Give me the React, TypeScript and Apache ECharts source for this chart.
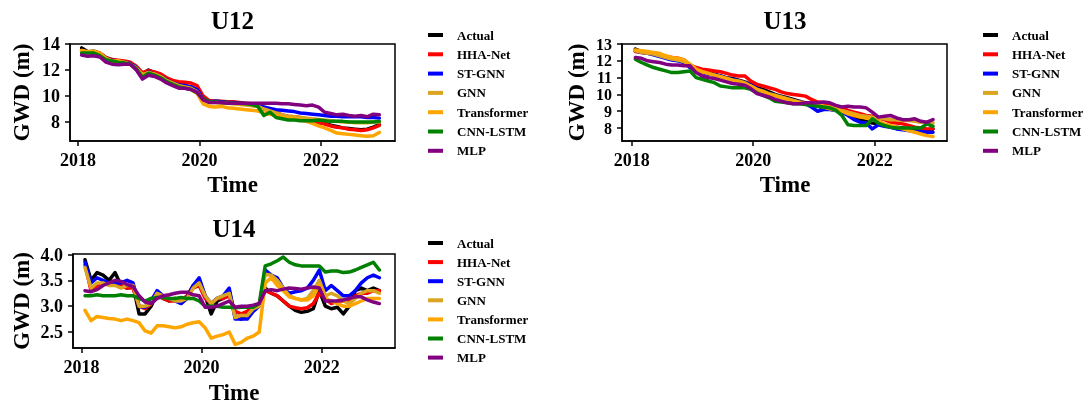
import React, { useEffect, useRef } from "react";
import * as echarts from "echarts";

const names = ["Actual", "HHA-Net", "ST-GNN", "GNN", "Transformer", "CNN-LSTM", "MLP"];
const colors = ["#000000", "#ff0000", "#0000ff", "#daa520", "#ffa500", "#008000", "#800080"];

const years = [
  2018.06, 2018.16, 2018.26, 2018.36, 2018.46, 2018.56, 2018.66, 2018.76, 2018.86, 2018.96,
  2019.06, 2019.16, 2019.26, 2019.36, 2019.46, 2019.56, 2019.66, 2019.76, 2019.86, 2019.96,
  2020.06, 2020.16, 2020.26, 2020.36, 2020.46, 2020.56, 2020.66, 2020.76, 2020.86, 2020.96,
  2021.06, 2021.16, 2021.26, 2021.36, 2021.46, 2021.56, 2021.66, 2021.76, 2021.86, 2021.96,
  2022.06, 2022.16, 2022.26, 2022.36, 2022.46, 2022.56, 2022.66, 2022.76, 2022.86, 2022.96,
];

// ---- U12 ----
const u12Actual = [
  13.7, 13.4, 13.45, 13.3, 12.95, 12.8, 12.7, 12.6, 12.5, 12.2,
  11.7, 12.0, 11.8, 11.6, 11.3, 11.1, 10.9, 10.8, 10.7, 10.5,
  9.8, 9.55, 9.6, 9.55, 9.5, 9.5, 9.45, 9.4, 9.35, 9.3,
  9.0, 8.9, 8.7, 8.5, 8.4, 8.35, 8.3, 8.2, 8.1, 7.95,
  7.9, 7.75, 7.65, 7.55, 7.5, 7.45, 7.4, 7.45, 7.6, 7.8,
];
const u12Hha = [
  13.5, 13.35, 13.4, 13.3, 12.95, 12.8, 12.75, 12.7, 12.6, 12.3,
  11.8, 11.95, 11.85, 11.7, 11.4, 11.2, 11.1, 11.05, 11.0, 10.8,
  10.0, 9.65, 9.6, 9.6, 9.55, 9.55, 9.5, 9.45, 9.4, 9.3,
  9.0, 8.85, 8.75, 8.55, 8.45, 8.4, 8.35, 8.25, 8.15, 8.0,
  7.85, 7.7, 7.6, 7.55, 7.45, 7.4, 7.35, 7.4, 7.55, 7.75,
];
const u12StGnn = [
  13.4, 13.35, 13.4, 13.25, 12.9, 12.75, 12.65, 12.6, 12.5, 12.2,
  11.6, 11.85, 11.7, 11.5, 11.25, 11.0, 10.85, 10.8, 10.7, 10.5,
  9.75, 9.55, 9.6, 9.55, 9.5, 9.5, 9.45, 9.4, 9.35, 9.25,
  9.15, 9.05, 8.95, 8.9, 8.85, 8.8, 8.7, 8.65, 8.6, 8.55,
  8.5, 8.45, 8.45, 8.4, 8.4, 8.4, 8.4, 8.35, 8.35, 8.3,
];
const u12Gnn = [
  13.45, 13.3, 13.35, 13.2, 12.85, 12.7, 12.7, 12.55, 12.45, 12.15,
  11.65, 11.8, 11.7, 11.5, 11.2, 11.0, 10.8, 10.7, 10.6, 10.35,
  9.7, 9.5, 9.5, 9.45, 9.45, 9.4, 9.35, 9.3, 9.25, 9.2,
  9.0, 8.85, 8.7, 8.55, 8.45, 8.4, 8.35, 8.3, 8.25, 8.2,
  8.15, 8.1, 8.05, 8.0, 8.0, 7.95, 7.95, 7.95, 8.0, 8.0,
];
const u12Transformer = [
  13.5, 13.4, 13.45, 13.3, 12.9, 12.7, 12.7, 12.6, 12.45, 12.1,
  11.55, 11.8, 11.65, 11.45, 11.1, 10.9, 10.75, 10.65, 10.5, 10.2,
  9.4, 9.2, 9.15, 9.2, 9.1, 9.05, 9.0, 8.95, 8.9, 8.85,
  8.7, 8.6, 8.5, 8.4, 8.3, 8.25, 8.15, 8.05, 7.9, 7.7,
  7.55, 7.35, 7.15, 7.1, 7.05, 7.0, 6.95, 6.9, 6.95, 7.2,
];
const u12CnnLstm = [
  13.3, 13.3, 13.3, 13.1, 12.8, 12.7, 12.6, 12.55, 12.45, 12.1,
  11.45, 11.75, 11.6, 11.4, 11.1, 10.9, 10.7, 10.6, 10.5, 10.25,
  9.8, 9.55, 9.55, 9.5, 9.5, 9.45, 9.45, 9.4, 9.35, 9.2,
  8.5, 8.75, 8.35, 8.25, 8.15, 8.15, 8.1, 8.1, 8.1, 8.15,
  8.1, 8.05, 8.05, 8.05, 8.0, 8.0, 8.0, 8.0, 8.0, 8.05,
];
const u12Mlp = [
  13.15, 13.05, 13.1, 13.0, 12.6, 12.45, 12.4, 12.45, 12.45, 12.0,
  11.3, 11.6, 11.5, 11.3, 11.0, 10.8, 10.6, 10.6, 10.5, 10.3,
  9.7, 9.5, 9.5, 9.5, 9.45, 9.45, 9.45, 9.45, 9.45, 9.45,
  9.45, 9.45, 9.45, 9.4, 9.4, 9.35, 9.3, 9.25, 9.3, 9.15,
  8.75, 8.65, 8.55, 8.6, 8.5, 8.45, 8.5, 8.4, 8.6, 8.55,
];

// ---- U13 ----
const u13Actual = [
  12.7, 12.55, 12.5, 12.4, 12.3, 12.2, 12.1, 12.05, 11.95, 11.7,
  11.5, 11.4, 11.3, 11.2, 11.1, 11.0, 10.95, 10.85, 10.75, 10.6,
  10.4, 10.3, 10.15, 10.0, 9.9, 9.8, 9.7, 9.6, 9.5, 9.35,
  9.3, 9.2, 9.15, 9.05, 8.95, 8.8, 8.65, 8.5, 8.4, 8.3,
  8.25, 8.2, 8.1, 8.05, 8.0, 7.95, 7.9, 7.85, 7.9, 7.95,
];
const u13Hha = [
  12.55, 12.5, 12.45, 12.4, 12.35, 12.25, 12.2, 12.15, 12.05, 11.75,
  11.6, 11.5, 11.45, 11.4, 11.35, 11.25, 11.15, 11.1, 11.1, 10.8,
  10.6, 10.5, 10.4, 10.3, 10.15, 10.05, 10.0, 9.95, 9.9, 9.7,
  9.55, 9.5, 9.4, 9.3, 9.2, 9.05, 8.95, 8.85, 8.75, 8.7,
  8.6, 8.5, 8.35, 8.3, 8.25, 8.15, 8.05, 8.0, 7.95, 7.95,
];
const u13StGnn = [
  12.6, 12.5, 12.45, 12.35, 12.25, 12.15, 12.05, 12.0, 11.9, 11.6,
  11.45, 11.3, 11.2, 11.15, 11.1, 10.95, 10.9, 10.8, 10.7, 10.55,
  10.35, 10.2, 10.05, 9.95, 9.85, 9.75, 9.65, 9.55, 9.45, 9.25,
  9.0, 9.1, 9.1, 9.05, 8.95, 8.75, 8.5, 8.35, 8.3, 7.95,
  8.2, 8.1, 8.05, 7.95, 7.9, 7.85, 7.8, 7.8, 7.75, 7.75,
];
const u13Gnn = [
  12.6, 12.5, 12.45, 12.4, 12.3, 12.2, 12.1, 12.05, 11.95, 11.7,
  11.45, 11.35, 11.25, 11.15, 11.05, 10.95, 10.85, 10.8, 10.7, 10.5,
  10.3, 10.2, 10.05, 9.95, 9.85, 9.75, 9.65, 9.55, 9.5, 9.4,
  9.35, 9.3, 9.25, 9.15, 9.05, 8.95, 8.85, 8.75, 8.7, 8.65,
  8.6, 8.55, 8.5, 8.5, 8.45, 8.45, 8.4, 8.35, 8.35, 8.3,
];
const u13Transformer = [
  12.65, 12.6, 12.55, 12.5, 12.45, 12.3, 12.2, 12.15, 12.05, 11.8,
  11.5, 11.35, 11.25, 11.15, 11.05, 10.95, 10.85, 10.75, 10.65, 10.5,
  10.3, 10.15, 10.0, 9.9, 9.8, 9.7, 9.6, 9.5, 9.45, 9.4,
  9.35, 9.25, 9.15, 9.05, 9.0, 8.85, 8.75, 8.65, 8.6, 8.5,
  8.4, 8.25, 8.15, 8.05, 7.95, 7.85, 7.75, 7.65, 7.55, 7.5,
];
const u13CnnLstm = [
  12.1, 11.9, 11.75, 11.6, 11.5, 11.4, 11.3, 11.3, 11.35, 11.4,
  11.0, 10.9, 10.8, 10.7, 10.5, 10.45, 10.4, 10.4, 10.4, 10.3,
  10.1, 9.95, 9.8, 9.6, 9.55, 9.5, 9.45, 9.45, 9.4, 9.35,
  9.3, 9.25, 9.2, 9.05, 8.75, 8.2, 8.15, 8.15, 8.15, 8.55,
  8.3, 8.15, 8.05, 8.0, 8.0, 8.0, 8.0, 8.0, 8.25, 8.1,
];
const u13Mlp = [
  12.2, 12.15, 12.0, 11.95, 11.9, 11.8, 11.75, 11.75, 11.7, 11.7,
  11.3, 11.1, 11.0, 10.95, 10.85, 10.75, 10.65, 10.6, 10.55, 10.35,
  10.05, 9.95, 9.85, 9.7, 9.6, 9.5, 9.45, 9.45, 9.5, 9.5,
  9.5, 9.55, 9.5, 9.35, 9.25, 9.3, 9.25, 9.25, 9.2, 8.95,
  8.65, 8.7, 8.75, 8.6, 8.5, 8.5, 8.55, 8.4, 8.35, 8.5,
];

// ---- U14 ----
const u14Actual = [
  3.9, 3.5, 3.65, 3.6, 3.5, 3.65, 3.4, 3.35, 3.4, 2.85,
  2.85, 3.0, 3.25, 3.15, 3.1, 3.15, 3.1, 3.2, 3.4, 3.5,
  3.2, 2.85, 3.1, 3.15, 3.3, 2.8, 2.75, 2.85, 2.95, 3.05,
  3.35, 3.25, 3.2, 3.1, 3.0, 2.92, 2.88, 2.9, 2.95, 3.3,
  3.0, 2.95, 2.98, 2.85, 3.0, 3.3, 3.35, 3.3, 3.35, 3.3,
];
const u14Hha = [
  3.8, 3.3, 3.4, 3.45, 3.45, 3.45, 3.4, 3.35, 3.35, 3.0,
  2.95, 3.05, 3.25, 3.15, 3.1, 3.1, 3.1, 3.2, 3.35, 3.4,
  3.15, 3.05, 3.15, 3.15, 3.2, 2.9, 2.85, 2.9, 3.0, 3.05,
  3.3, 3.25, 3.2, 3.1, 3.0, 2.97, 2.95, 2.97, 3.05, 3.25,
  3.15, 3.05, 3.1, 3.1, 3.1, 3.2, 3.25, 3.25, 3.3, 3.3,
];
const u14StGnn = [
  3.85, 3.45, 3.55, 3.5, 3.45, 3.45, 3.45, 3.5, 3.45, 3.0,
  2.98, 3.1, 3.3, 3.2, 3.15, 3.1, 3.05, 3.15, 3.4, 3.55,
  3.2, 3.05, 3.15, 3.2, 3.35, 2.75, 2.75, 2.75, 2.9, 3.0,
  3.7, 3.6, 3.55, 3.35, 3.25, 3.28, 3.3, 3.35, 3.5, 3.7,
  3.3, 3.4, 3.3, 3.2, 3.2, 3.3, 3.45, 3.55, 3.6, 3.55,
];
const u14Gnn = [
  3.75, 3.35, 3.45, 3.45, 3.4, 3.4, 3.35, 3.4, 3.4, 3.0,
  3.0, 3.05, 3.25, 3.2, 3.15, 3.1, 3.1, 3.15, 3.35, 3.45,
  3.2, 3.05, 3.15, 3.2, 3.25, 2.78, 2.82, 2.82, 2.95, 3.0,
  3.62, 3.6, 3.5, 3.35, 3.2, 3.15, 3.12, 3.15, 3.3, 3.5,
  3.2, 3.25, 3.2, 3.1, 3.05, 3.15, 3.25, 3.3, 3.3, 3.25,
];
const u14Transformer = [
  2.92, 2.72, 2.8, 2.78, 2.76, 2.75, 2.72, 2.75, 2.72, 2.68,
  2.52, 2.48, 2.62, 2.62, 2.6, 2.58, 2.6, 2.65, 2.68, 2.7,
  2.58, 2.38, 2.42, 2.45, 2.5, 2.26, 2.3, 2.38, 2.42, 2.5,
  3.45, 3.55, 3.4, 3.3, 3.18, 3.15, 3.12, 3.12, 3.2, 3.4,
  3.15, 3.1, 3.05, 3.0, 3.0, 3.05, 3.1, 3.15, 3.15, 3.15,
];
const u14CnnLstm = [
  3.2, 3.2, 3.22, 3.2, 3.2, 3.2, 3.22, 3.2, 3.2, 3.15,
  3.1, 3.15, 3.17, 3.17, 3.15, 3.15, 3.17, 3.15, 3.15, 3.1,
  3.0, 3.0, 3.0, 2.98, 2.98, 2.97, 2.98, 2.98, 2.98, 3.05,
  3.78, 3.82, 3.88, 3.95, 3.85, 3.8, 3.78, 3.78, 3.78, 3.78,
  3.66, 3.68, 3.68, 3.65, 3.66, 3.7, 3.75, 3.8, 3.85, 3.7,
];
const u14Mlp = [
  3.3, 3.28, 3.32, 3.4, 3.45, 3.5, 3.48, 3.42, 3.38, 3.2,
  3.08, 3.05, 3.15, 3.2, 3.22, 3.25, 3.27, 3.27, 3.22, 3.2,
  2.98, 2.98, 3.0, 3.05, 3.1, 2.98, 3.0, 3.0, 3.02, 3.05,
  3.3, 3.32, 3.3, 3.33, 3.35, 3.34, 3.33, 3.35, 3.37, 3.35,
  3.1, 3.1, 3.1, 3.12, 3.15, 3.18, 3.18, 3.12, 3.08, 3.05,
];

const xTicks = [2018, 2020, 2022];
const u12YTicks = [8, 10, 12, 14];
const u13YTicks = [8, 9, 10, 11, 12, 13];
const u14YTicks = [2.5, 3.0, 3.5, 4.0];

const panelTitles = ["U12", "U13", "U14"];

const FONT = "'Liberation Serif', 'Times New Roman', serif";

export default function App() {
  const ref = useRef<HTMLDivElement>(null);

  useEffect(() => {
    if (!ref.current) return;
    const chart = echarts.init(ref.current, undefined, { renderer: "svg" });

    const panels = [
      { data: [u12Actual, u12Hha, u12StGnn, u12Gnn, u12Transformer, u12CnnLstm, u12Mlp],
        grid: { left: 70, top: 44, width: 325, height: 97 },
        xMin: 2017.868, xMax: 2023.218, yMin: 6.54, yMax: 14.0, yTicks: u12YTicks, dec: 0, yFont: 18 },
      { data: [u13Actual, u13Hha, u13StGnn, u13Gnn, u13Transformer, u13CnnLstm, u13Mlp],
        grid: { left: 622, top: 44, width: 325, height: 97 },
        xMin: 2017.84, xMax: 2023.19, yMin: 7.23, yMax: 13.0, yTicks: u13YTicks, dec: 0, yFont: 16 },
      { data: [u14Actual, u14Hha, u14StGnn, u14Gnn, u14Transformer, u14CnnLstm, u14Mlp],
        grid: { left: 73, top: 254, width: 322, height: 94 },
        xMin: 2017.86, xMax: 2023.22, yMin: 2.19, yMax: 4.01, yTicks: u14YTicks, dec: 1, yFont: 18 },
    ];

    const tickFont = { fontFamily: FONT, fontWeight: "bold" as const, fontSize: 18, color: "#000" };
    const lineBlack = { color: "#000", width: 1.5 };

    const grids = panels.map((p) => ({
      ...p.grid, show: true, borderColor: "#000", borderWidth: 1.5, backgroundColor: "#fff",
    }));

    const xAxes = panels.map((p, i) => ({
      type: "value", gridIndex: i, min: p.xMin, max: p.xMax,
      axisLine: { show: true, onZero: false, lineStyle: lineBlack },
      axisTick: { show: true, customValues: xTicks, length: 5, lineStyle: lineBlack },
      axisLabel: { customValues: xTicks, margin: 10, showMinLabel: true, showMaxLabel: true, ...tickFont,
        formatter: (v: number) => String(Math.round(v)) },
      splitLine: { show: false },
    }));

    const yAxes = panels.map((p, i) => ({
      type: "value", gridIndex: i, min: p.yMin, max: p.yMax,
      axisLine: { show: true, onZero: false, lineStyle: lineBlack },
      axisTick: { show: true, customValues: p.yTicks, length: 5, lineStyle: lineBlack },
      axisLabel: { customValues: p.yTicks, margin: 10, showMinLabel: true, showMaxLabel: true, hideOverlap: false,
        ...tickFont, fontSize: p.yFont, lineHeight: p.yFont - 2,
        formatter: (v: number) => v.toFixed(p.dec) },
      splitLine: { show: false },
    }));

    const series: any[] = [];
    panels.forEach((p, pi) => {
      p.data.forEach((vals, si) => {
        series.push({
          type: "line", name: names[si], xAxisIndex: pi, yAxisIndex: pi,
          data: years.map((x, k) => [x, vals[k]]),
          symbol: "none", showSymbol: false, silent: true,
          lineStyle: { width: 3.5, color: colors[si], cap: "round", join: "round" },
          itemStyle: { color: colors[si] },
          z: 2 + si,
        });
      });
    });

    const legendBase = {
      orient: "vertical", icon: "rect", itemWidth: 15, itemHeight: 4, padding: 0,
      selectedMode: false, data: names,
      textStyle: { fontFamily: FONT, fontWeight: "bold", fontSize: 13, lineHeight: 14, color: "#000", padding: [0, 0, 0, 9] },
    };

    const titleFont = { fontFamily: FONT, fontWeight: "bold", fill: "#000" };
    const texts: any[] = [];
    const centers = [
      { cx: 232.5, ty: 20, ly: 92.5, gx: 21, xy: 184 },
      { cx: 785, ty: 20, ly: 92.5, gx: 576, xy: 184 },
      { cx: 234, ty: 228, ly: 301, gx: 21, xy: 392 },
    ];
    centers.forEach((c, i) => {
      texts.push({ type: "text", x: c.cx, y: c.ty, style: { text: panelTitles[i], ...titleFont, fontSize: 25, textAlign: "center", textVerticalAlign: "middle" } });
      texts.push({ type: "text", x: c.cx, y: c.xy, style: { text: "Time", ...titleFont, fontSize: 23, textAlign: "center", textVerticalAlign: "middle" } });
      texts.push({ type: "text", x: c.gx, y: c.ly, rotation: Math.PI / 2, style: { text: "GWD (m)", ...titleFont, fontSize: 23, textAlign: "center", textVerticalAlign: "middle" } });
    });

    chart.setOption({
      animation: false,
      grid: grids,
      xAxis: xAxes,
      yAxis: yAxes,
      series,
      legend: [
        { ...legendBase, left: 428, top: 28, itemGap: 5.3 },
        { ...legendBase, left: 983, top: 28, itemGap: 5.3 },
        { ...legendBase, left: 428, top: 236, itemGap: 5.1 },
      ],
      graphic: texts,
    });

    return () => chart.dispose();
  }, []);

  return <div ref={ref} style={{ position: "fixed", left: 0, top: 0, width: 1091, height: 407 }} />;
}
